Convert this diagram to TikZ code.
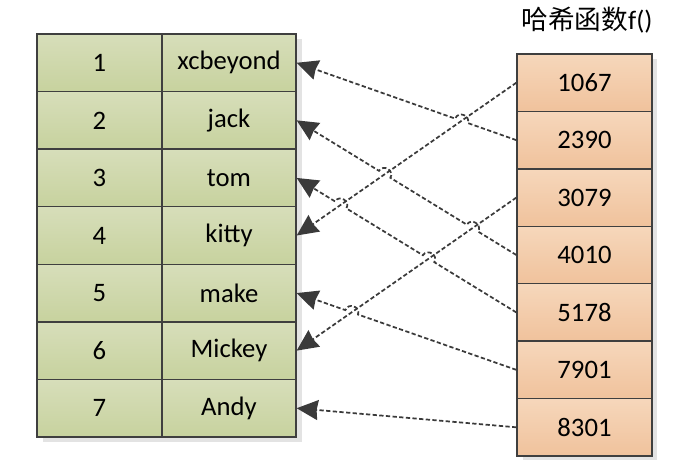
\documentclass[tikz,border=0pt]{standalone}
\usepackage{fontspec}
\setmainfont{Carlito}
\newfontfamily\cjk{Noto Sans CJK SC}
\usetikzlibrary{calc,arrows.meta}
\definecolor{bd}{HTML}{3F3F3F}
\definecolor{gTop}{HTML}{D7DEBA}
\definecolor{gBot}{HTML}{C7D29E}
\definecolor{pTop}{HTML}{F6D7BB}
\definecolor{pBot}{HTML}{F0C29C}
\definecolor{shd}{HTML}{E3E3E3}
\definecolor{cn}{HTML}{3A3A3A}
\begin{document}
\begin{tikzpicture}[x=0.75pt,y=-0.75pt,
  txt/.style={font=\fontsize{20}{24}\selectfont},
  cellbase/.style={draw=bd, line width=1pt, inner sep=0pt, txt},
  cellN/.style={cellbase, top color=gTop, bottom color=gBot, minimum width=93.75pt, minimum height=43.18pt},
  cellL/.style={cellbase, top color=gTop, bottom color=gBot, minimum width=100.5pt, minimum height=43.18pt},
  cellH/.style={cellbase, top color=pTop, bottom color=pBot, minimum width=101.25pt, minimum height=43.07pt},
  conn/.style={draw=cn, line width=1.3pt, dash pattern=on 3.2pt off 1.8pt,
     -{Stealth[length=16pt, width=15pt, inset=1pt]}},
  hop/.style={bend right=90, looseness=1.6}]
\useasboundingbox (0,0) rectangle (693,461);
% shadows
\fill[shd] (43,39) rectangle (302,442);
\fill[shd] (523,59) rectangle (657,460);
% left table
\foreach \i/\t in {1/xcbeyond,2/jack,3/tom,4/kitty,5/make,6/Mickey,7/Andy}{
  \node[cellN] (N\i) at (99.5,{34+(\i-0.5)*57.57}) {\i};
  \node[cellL] (L\i) at (229,{34+(\i-0.5)*57.57}) {\t};
}
% hash table
\foreach \i/\t in {1/1067,2/2390,3/3079,4/4010,5/5178,6/7901,7/8301}{
  \node[cellH] (H\i) at (584.5,{54+(\i-0.5)*57.43}) {\t};
}
\node[txt, anchor=center] (title) at (587,20) {{\cjk 哈希函数}f()};
% crossings
\coordinate (xA) at (intersection of H2.west--L1.east and H1.west--L4.east);
\coordinate (xCE) at (intersection of H4.west--L2.east and H3.west--L6.east);
\coordinate (xCB) at (intersection of H4.west--L2.east and H1.west--L4.east);
\coordinate (xDE) at (intersection of H5.west--L3.east and H3.west--L6.east);
\coordinate (xDB) at (intersection of H5.west--L3.east and H1.west--L4.east);
\coordinate (xF) at (intersection of H6.west--L5.east and H3.west--L6.east);
% up-going lines
\draw[conn] (H1.west) -- (L4.east);
\draw[conn] (H3.west) -- (L6.east);
% down-going lines with hops
\draw[conn] (H2.west) -- ($(xA)!5pt!(H2.west)$) to[hop] ($(xA)!5pt!(L1.east)$) -- (L1.east);
\draw[conn] (H4.west) -- ($(xCE)!5pt!(H4.west)$) to[hop] ($(xCE)!5pt!(L2.east)$)
   -- ($(xCB)!5pt!(H4.west)$) to[hop] ($(xCB)!5pt!(L2.east)$) -- (L2.east);
\draw[conn] (H5.west) -- ($(xDE)!5pt!(H5.west)$) to[hop] ($(xDE)!5pt!(L3.east)$)
   -- ($(xDB)!5pt!(H5.west)$) to[hop] ($(xDB)!5pt!(L3.east)$) -- (L3.east);
\draw[conn] (H6.west) -- ($(xF)!5pt!(H6.west)$) to[hop] ($(xF)!5pt!(L5.east)$) -- (L5.east);
\draw[conn] (H7.west) -- (L7.east);
\end{tikzpicture}
\end{document}
